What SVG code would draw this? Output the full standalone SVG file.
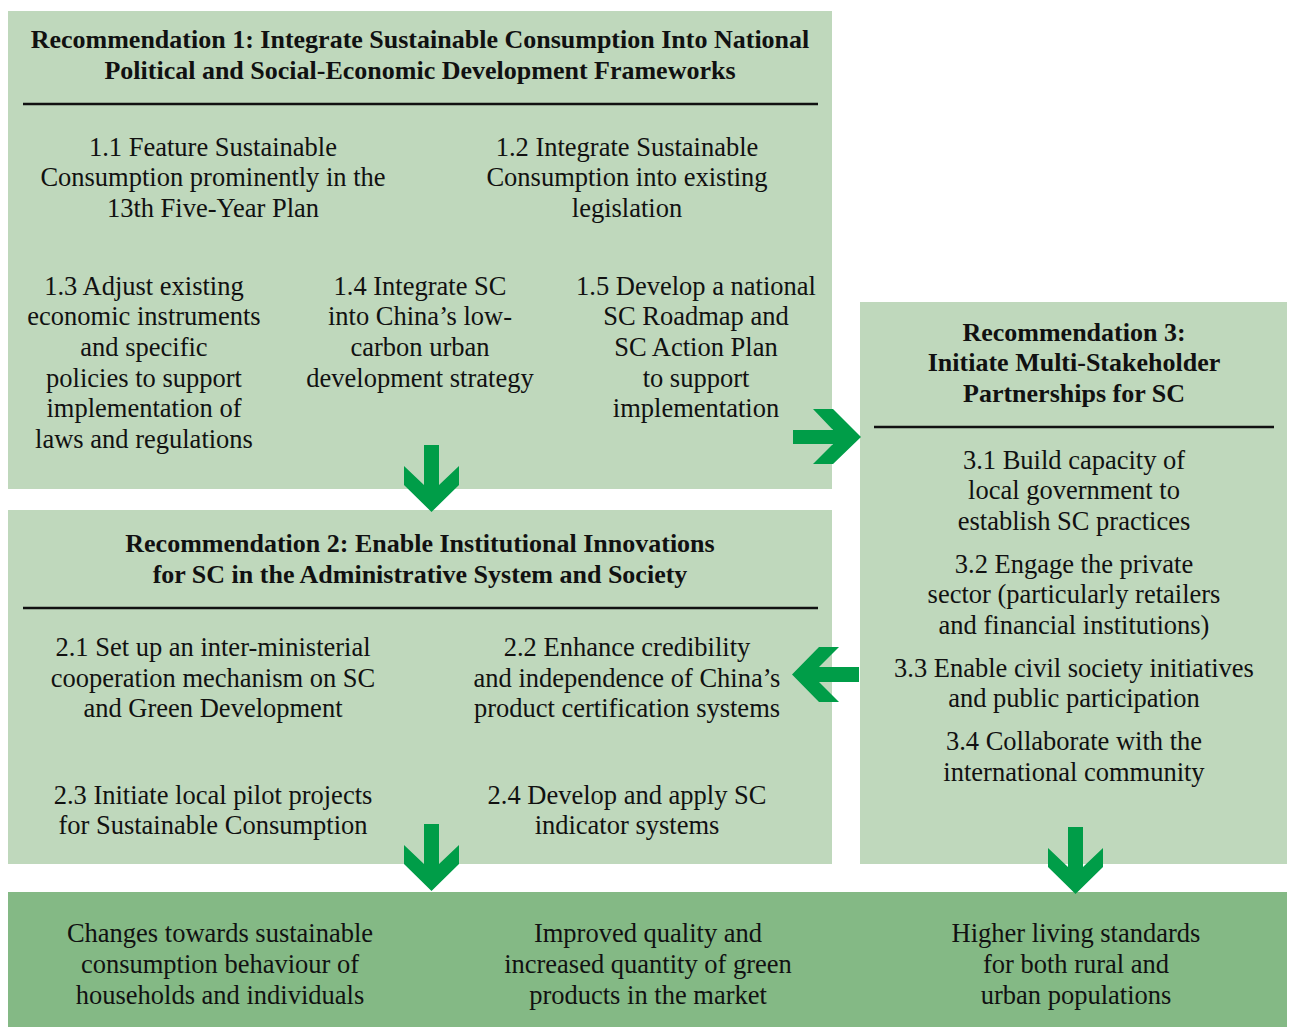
<svg xmlns="http://www.w3.org/2000/svg" width="1291" height="1027" viewBox="0 0 1291 1027">
<style>
.box{fill:#bfd8bc}
.out{fill:#84b985}
.arrow{fill:#009d48}
text{font-family:"Liberation Serif",serif;font-size:26.5px;fill:#111;text-anchor:middle}
.t{font-weight:bold;font-size:26px}
.rule{stroke:#111;stroke-width:2.5}
</style>
<rect width="1291" height="1027" fill="#fff"/>
<g id="rec1">
<rect class="box" x="8" y="11" width="824" height="478"/>
<text class="t" x="420" y="48">Recommendation 1: Integrate Sustainable Consumption Into National</text>
<text class="t" x="420" y="79">Political and Social-Economic Development Frameworks</text>
<line class="rule" x1="23" y1="104" x2="818" y2="104"/>
<text x="213" y="156">1.1 Feature Sustainable</text>
<text x="213" y="186">Consumption prominently in the</text>
<text x="213" y="217">13th Five-Year Plan</text>
<text x="627" y="156">1.2 Integrate Sustainable</text>
<text x="627" y="186">Consumption into existing</text>
<text x="627" y="217">legislation</text>
<text x="144" y="295">1.3 Adjust existing</text>
<text x="144" y="325">economic instruments</text>
<text x="144" y="356">and specific</text>
<text x="144" y="387">policies to support</text>
<text x="144" y="417">implementation of</text>
<text x="144" y="448">laws and regulations</text>
<text x="420" y="295">1.4 Integrate SC</text>
<text x="420" y="325">into China’s low-</text>
<text x="420" y="356">carbon urban</text>
<text x="420" y="387">development strategy</text>
<text x="696" y="295">1.5 Develop a national</text>
<text x="696" y="325">SC Roadmap and</text>
<text x="696" y="356">SC Action Plan</text>
<text x="696" y="387">to support</text>
<text x="696" y="417">implementation</text>
</g>
<g id="rec2">
<rect class="box" x="8" y="510" width="824" height="354"/>
<text class="t" x="420" y="552">Recommendation 2: Enable Institutional Innovations</text>
<text class="t" x="420" y="583">for SC in the Administrative System and Society</text>
<line class="rule" x1="23" y1="608" x2="818" y2="608"/>
<text x="213" y="656">2.1 Set up an inter-ministerial</text>
<text x="213" y="687">cooperation mechanism on SC</text>
<text x="213" y="717">and Green Development</text>
<text x="627" y="656">2.2 Enhance credibility</text>
<text x="627" y="687">and independence of China’s</text>
<text x="627" y="717">product certification systems</text>
<text x="213" y="804">2.3 Initiate local pilot projects</text>
<text x="213" y="834">for Sustainable Consumption</text>
<text x="627" y="804">2.4 Develop and apply SC</text>
<text x="627" y="834">indicator systems</text>
</g>
<g id="rec3">
<rect class="box" x="860" y="302" width="427" height="562"/>
<text class="t" x="1074" y="341">Recommendation 3:</text>
<text class="t" x="1074" y="371">Initiate Multi-Stakeholder</text>
<text class="t" x="1074" y="402">Partnerships for SC</text>
<line class="rule" x1="874" y1="427" x2="1274" y2="427"/>
<text x="1074" y="469">3.1 Build capacity of</text>
<text x="1074" y="499">local government to</text>
<text x="1074" y="530">establish SC practices</text>
<text x="1074" y="573">3.2 Engage the private</text>
<text x="1074" y="603">sector (particularly retailers</text>
<text x="1074" y="634">and financial institutions)</text>
<text x="1074" y="677">3.3 Enable civil society initiatives</text>
<text x="1074" y="707">and public participation</text>
<text x="1074" y="750">3.4 Collaborate with the</text>
<text x="1074" y="781">international community</text>
</g>
<g id="outcomes">
<rect class="out" x="8" y="892" width="1279" height="135"/>
<text x="220" y="942">Changes towards sustainable</text>
<text x="220" y="973">consumption behaviour of</text>
<text x="220" y="1004">households and individuals</text>
<text x="648" y="942">Improved quality and</text>
<text x="648" y="973">increased quantity of green</text>
<text x="648" y="1004">products in the market</text>
<text x="1076" y="942">Higher living standards</text>
<text x="1076" y="973">for both rural and</text>
<text x="1076" y="1004">urban populations</text>
</g>
<g id="connectors">
<polygon class="arrow" points="424,445 439,445 439,485 459,466 459,485 431.5,512 404,485 404,466 424,485"/>
<polygon class="arrow" points="424,824 439,824 439,864 459,845 459,864 431.5,891 404,864 404,845 424,864"/>
<polygon class="arrow" points="1068,827 1083,827 1083,867 1103,848 1103,867 1075.5,894 1048,867 1048,848 1068,867"/>
<polygon class="arrow" points="793,430 833,430 813,409 833,409 861,437 833,464 813,464 833,444 793,444"/>
<polygon class="arrow" points="859,667 819,667 839,647 819,647 792,674.5 819,702 839,702 819,682 859,682"/>
</g>
</svg>
